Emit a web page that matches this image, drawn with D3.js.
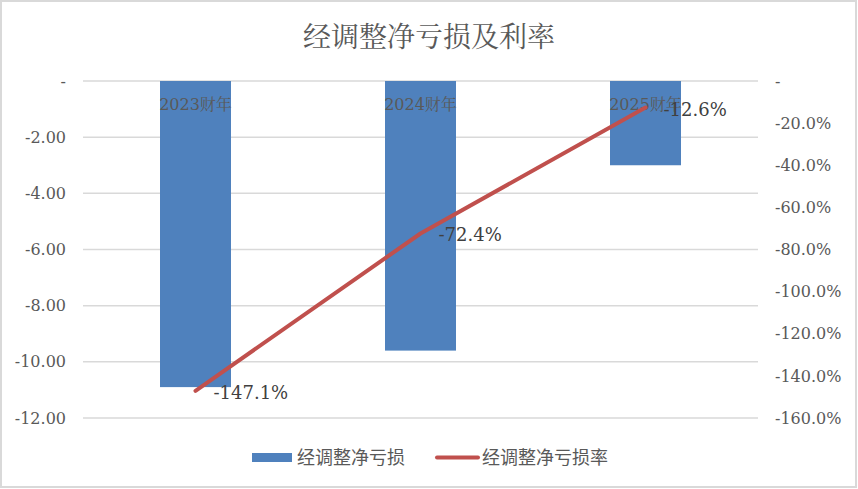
<!DOCTYPE html>
<html>
<head>
<meta charset="utf-8">
<script src="https://cdn.jsdelivr.net/npm/d3@7"></script>
<style>
  body { margin: 0; background: #fff; }
  svg text { font-family: "DejaVu Serif", "Noto Serif CJK SC", "Noto Sans CJK SC", serif; }
</style>
</head>
<body>
<div id="chart"></div>
<script>
// data
const categories = ["2023财年", "2024财年", "2025财年"];
const netLoss = [-10.9, -9.6, -3.0];          // 经调整净亏损
const lossRate = [-1.471, -0.724, -0.126];    // 经调整净亏损率
const leftTicks = [0, -2, -4, -6, -8, -10, -12];
const rightTicks = [0, -0.2, -0.4, -0.6, -0.8, -1.0, -1.2, -1.4, -1.6];

const W = 858, H = 489;
const svg = d3.select("#chart").append("svg").attr("width", W).attr("height", H);

// chart border
svg.append("rect")
  .attr("x", 1).attr("y", 1).attr("width", 855).attr("height", 486)
  .attr("fill", "#fff").attr("stroke", "#d9d9d9").attr("stroke-width", 2);

const plotL = 83, plotR = 758, plotT = 81, plotB = 418;

const x = d3.scaleBand().domain(categories).range([plotL, plotR]);
const y = d3.scaleLinear().domain([-12, 0]).range([plotB, plotT]);
const y2 = d3.scaleLinear().domain([-1.6, 0]).range([plotB, plotT]);
const barW = 71;

// title
svg.append("text")
  .attr("x", 429).attr("y", 47)
  .attr("text-anchor", "middle")
  .style("font-size", "28px")
  .style("fill", "#595959")
  .style("font-family", "'Noto Serif CJK SC','Noto Sans CJK SC',sans-serif")
  .text("经调整净亏损及利率");

// gridlines
svg.append("g").selectAll("line")
  .data(leftTicks)
  .enter().append("line")
  .attr("x1", plotL).attr("x2", plotR)
  .attr("y1", d => y(d)).attr("y2", d => y(d))
  .attr("stroke", "#d9d9d9").attr("stroke-width", 1.5);

// axes
const gl = svg.append("g").attr("transform", `translate(${plotL},0)`)
  .call(d3.axisLeft(y).tickValues(leftTicks).tickSize(0).tickPadding(17)
    .tickFormat(d => d === 0 ? "-" : d.toFixed(2)));
const gr = svg.append("g").attr("transform", `translate(${plotR},0)`)
  .call(d3.axisRight(y2).tickValues(rightTicks).tickSize(0).tickPadding(17)
    .tickFormat(d => d === 0 ? "-" : (d * 100).toFixed(1) + "%"));
[gl, gr].forEach(g => {
  g.select(".domain").remove();
  g.selectAll("text")
    .style("font-size", "16px")
    .style("fill", "#595959")
    .style("font-family", "'DejaVu Serif', serif");
});

// bars
svg.append("g").selectAll("rect")
  .data(netLoss)
  .enter().append("rect")
  .attr("x", (d, i) => x(categories[i]) + x.bandwidth() / 2 - barW / 2)
  .attr("y", y(0))
  .attr("width", barW)
  .attr("height", d => y(d) - y(0))
  .attr("fill", "#4f81bd");

// category labels sit at the zero line
svg.append("g").selectAll("text")
  .data(categories)
  .enter().append("text")
  .attr("x", d => x(d) + x.bandwidth() / 2)
  .attr("y", 110)
  .attr("text-anchor", "middle")
  .style("font-size", "16px")
  .style("fill", "#595959")
  .text(d => d);

// line
const line = d3.line()
  .x((d, i) => x(categories[i]) + x.bandwidth() / 2)
  .y(d => y2(d));
svg.append("path")
  .datum(lossRate)
  .attr("d", line)
  .attr("fill", "none")
  .attr("stroke", "#c0504d")
  .attr("stroke-width", 4)
  .attr("stroke-linecap", "round")
  .attr("stroke-linejoin", "round");

// data labels
svg.append("g").selectAll("text")
  .data(lossRate)
  .enter().append("text")
  .attr("x", (d, i) => x(categories[i]) + x.bandwidth() / 2 + 18)
  .attr("y", d => y2(d) + 8)
  .style("font-size", "18px")
  .style("fill", "#404040")
  .text(d => (d * 100).toFixed(1) + "%");

// legend
const legend = svg.append("g");
legend.append("rect")
  .attr("x", 252).attr("y", 453).attr("width", 40).attr("height", 9)
  .attr("fill", "#4f81bd");
legend.append("text")
  .attr("x", 297).attr("y", 464)
  .style("font-size", "18px").style("fill", "#595959")
  .style("font-family", "'Noto Sans CJK SC',sans-serif")
  .text("经调整净亏损");
legend.append("line")
  .attr("x1", 437).attr("x2", 478).attr("y1", 457.5).attr("y2", 457.5)
  .attr("stroke", "#c0504d").attr("stroke-width", 4).attr("stroke-linecap", "round");
legend.append("text")
  .attr("x", 482).attr("y", 464)
  .style("font-size", "18px").style("fill", "#595959")
  .style("font-family", "'Noto Sans CJK SC',sans-serif")
  .text("经调整净亏损率");
</script>
</body>
</html>
